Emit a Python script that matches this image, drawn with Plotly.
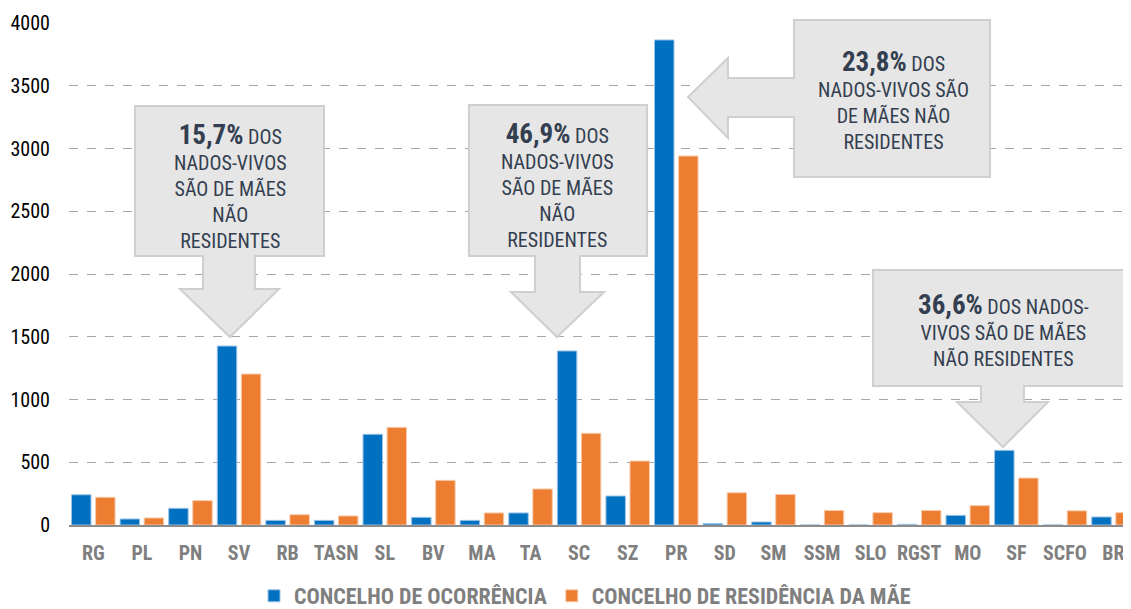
import plotly.graph_objects as go

# Births by municipality: place of occurrence vs mother's residence
categories = ["RG", "PL", "PN", "SV", "RB", "TASN", "SL", "BV", "MA", "TA", "SC",
              "SZ", "PR", "SD", "SM", "SSM", "SLO", "RGST", "MO", "SF", "SCFO", "BR"]
ocorrencia = [241, 48, 133, 1426, 37, 37, 723, 61, 37, 96, 1387,
              231, 3865, 12, 24, 0, 0, 5, 77, 595, 0, 64]
residencia = [221, 56, 194, 1203, 82, 72, 778, 356, 96, 287, 731,
              510, 2940, 257, 244, 116, 98, 116, 154, 374, 113, 98]
y_ticks = [0, 500, 1000, 1500, 2000, 2500, 3000, 3500, 4000]

NARROW = "Liberation Sans Narrow, Arial Narrow, Roboto Condensed, sans-serif"
BLUE = "#0070C0"
ORANGE = "#ED7D31"
GREY_TXT = "#7F7F7F"
CALLOUT_TXT = "#333F50"

# page has an 8px body margin, so the figure is a bit smaller than the window
PAGE_OFF = 8
W, H = 1131 - PAGE_OFF, 609 - PAGE_OFF
# plot area in screen pixels
PL_X0, PL_X1, PL_Y0, PL_Y1 = 69, 1131, 23, 525


def px(x, y):
    """screen pixel -> paper coords"""
    return (x - PL_X0) / (PL_X1 - PL_X0), (PL_Y1 - y) / (PL_Y1 - PL_Y0)


def path(points):
    pts = [px(x, y) for x, y in points]
    return "M " + " L ".join(f"{a:.4f},{b:.4f}" for a, b in pts) + " Z"


def down_arrow(l, t, r, b, sl, sr, sy, wl, wr, tx, ty):
    return path([(l, t), (r, t), (r, b), (sr, b), (sr, sy), (wr, sy), (tx, ty),
                 (wl, sy), (sl, sy), (sl, b), (l, b)])


fig = go.Figure()

fig.add_trace(go.Bar(
    x=categories, y=ocorrencia, name="CONCELHO DE OCORRÊNCIA",
    marker=dict(color=BLUE, line=dict(color="#9DC3E6", width=1)),
))
fig.add_trace(go.Bar(
    x=categories, y=residencia, name="CONCELHO DE RESIDÊNCIA DA MÃE",
    marker=dict(color=ORANGE, line=dict(color="#F8CBAD", width=1)),
))

callout_style = dict(type="path", xref="paper", yref="paper", layer="above",
                     fillcolor="#E7E6E6", line=dict(color="#D0CECE", width=2))

shapes = [
    dict(path=down_arrow(135, 106, 324, 256, 203, 255, 289, 180, 279, 230, 337), **callout_style),
    dict(path=down_arrow(469, 105, 647, 256, 535, 580, 292, 511, 604, 557, 337), **callout_style),
    dict(path=path([(794, 20), (990, 20), (990, 177), (794, 177), (794, 117), (728, 117),
                    (728, 138), (688, 97), (728, 58), (728, 78), (794, 78)]), **callout_style),
    dict(path=down_arrow(873, 270, 1129, 386, 981, 1024, 402, 957, 1048, 1003, 447), **callout_style),
]

callouts = [
    (230, 186, "15,7%", "DOS<br>NADOS-VIVOS<br>SÃO DE MÃES<br>NÃO<br>RESIDENTES"),
    (557, 185, "46,9%", "DOS<br>NADOS-VIVOS<br>SÃO DE MÃES<br>NÃO<br>RESIDENTES"),
    (893, 100, "23,8%", "DOS<br>NADOS-VIVOS SÃO<br>DE MÃES NÃO<br>RESIDENTES"),
    (1003, 330, "36,6%", "DOS NADOS-<br>VIVOS SÃO DE MÃES<br>NÃO RESIDENTES"),
]
annotations = []
for cx, cy, pct, rest in callouts:
    ax, ay = px(cx, cy)
    annotations.append(dict(
        x=ax, y=ay, xref="paper", yref="paper", xanchor="center", yanchor="middle",
        showarrow=False, align="center",
        text=f"<span style='font-size:27px'><b>{pct}</b></span> {rest}",
        font=dict(family=NARROW, size=20, color=CALLOUT_TXT),
    ))

lx, ly = px(585, 596)

fig.update_layout(
    width=W, height=H,
    margin=dict(l=PL_X0 - PAGE_OFF, r=W + PAGE_OFF - PL_X1, t=PL_Y0 - PAGE_OFF,
                b=H + PAGE_OFF - PL_Y1, autoexpand=False),
    plot_bgcolor="white", paper_bgcolor="white",
    barmode="group", bargap=0.01, bargroupgap=0.19,
    font=dict(family=NARROW, size=20, color="black"),
    xaxis=dict(
        range=[-0.5, 21.36], showgrid=False, showline=True, linecolor="#8C8C8C",
        linewidth=1.5, ticks="", ticklabelstandoff=9,
        tickfont=dict(family=NARROW, size=20, color=GREY_TXT, weight="bold"),
    ),
    yaxis=dict(
        range=[0, 4000], tickvals=y_ticks, showgrid=True, gridcolor="#A6A6A6",
        griddash="dash", gridwidth=1, zeroline=False, showline=False, ticks="",
        ticklabelstandoff=18, tickfont=dict(family=NARROW, size=20, color="black"),
    ),
    legend=dict(
        orientation="h", x=lx, xanchor="center", y=ly, yanchor="middle",
        font=dict(family=NARROW, size=22, color=GREY_TXT, weight="bold"),
        itemwidth=30, traceorder="normal",
    ),
    shapes=shapes,
    annotations=annotations,
)

fig.write_html("out.html")
